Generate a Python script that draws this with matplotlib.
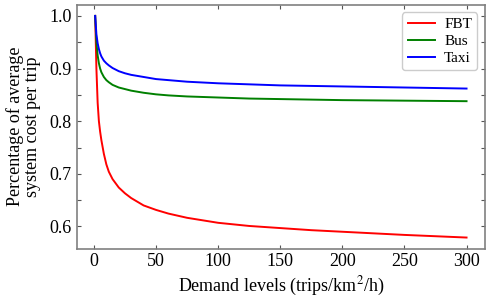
import matplotlib
matplotlib.use("Agg")
import matplotlib.pyplot as plt
from matplotlib.ticker import MultipleLocator

# demand levels
demanda = [1, 2, 3, 4, 5, 6, 8, 10, 12, 15, 20, 25, 30, 40, 50, 60, 75,
           100, 125, 150, 175, 200, 250, 300]
fbt = [1.0, 0.90, 0.835, 0.80, 0.78, 0.764, 0.738, 0.718, 0.704, 0.690, 0.674,
       0.663, 0.654, 0.640, 0.6315, 0.6245, 0.6165, 0.607, 0.601, 0.597, 0.593,
       0.590, 0.584, 0.579]
bus = [1.0, 0.95, 0.925, 0.91, 0.90, 0.893, 0.884, 0.878, 0.874, 0.869, 0.864,
       0.861, 0.858, 0.854, 0.851, 0.849, 0.847, 0.845, 0.843, 0.842, 0.841,
       0.840, 0.839, 0.838]
taxi = [1.0, 0.965, 0.948, 0.937, 0.929, 0.923, 0.915, 0.910, 0.906, 0.901,
        0.895, 0.891, 0.888, 0.884, 0.880, 0.878, 0.875, 0.872, 0.870, 0.868,
        0.867, 0.866, 0.864, 0.862]

plt.rcParams['font.family'] = ['Liberation Serif', 'DejaVu Serif']
plt.rcParams['mathtext.fontset'] = 'stix'

fig = plt.figure(figsize=(4.91, 3.01), dpi=100)
ax = fig.add_axes([0.156, 0.174, 0.832, 0.810])

ax.plot(demanda, fbt, color="red", lw=1.4, label="FBT")
ax.plot(demanda, bus, color="green", lw=1.4, label="Bus")
ax.plot(demanda, taxi, color="blue", lw=1.4, label="Taxi")

ax.set_xticks([0, 50, 100, 150, 200, 250, 300])
ax.set_yticks([0.6, 0.7, 0.8, 0.9, 1.0])
ax.yaxis.set_minor_locator(MultipleLocator(0.05))
ax.tick_params(which="both", direction="in", top=True, right=True,
               labelsize=13, length=3, width=0.8, color="#555555")
ax.tick_params(which="minor", length=3)
for s in ax.spines.values():
    s.set_color("#808080")
    s.set_linewidth(1.2)

ax.set_xlabel("Demand levels (trips/km$^2$/h)", fontsize=13, labelpad=3)
ax.set_ylabel("Percentage of average\nsystem cost per trip", fontsize=13,
              linespacing=1.0, labelpad=6)

ax.legend(loc="upper right", fontsize=11, handlelength=1.8, labelspacing=0.2,
          handletextpad=0.6, borderpad=0.35, framealpha=1, edgecolor="#cccccc")

fig.savefig("out.png", dpi=100)
